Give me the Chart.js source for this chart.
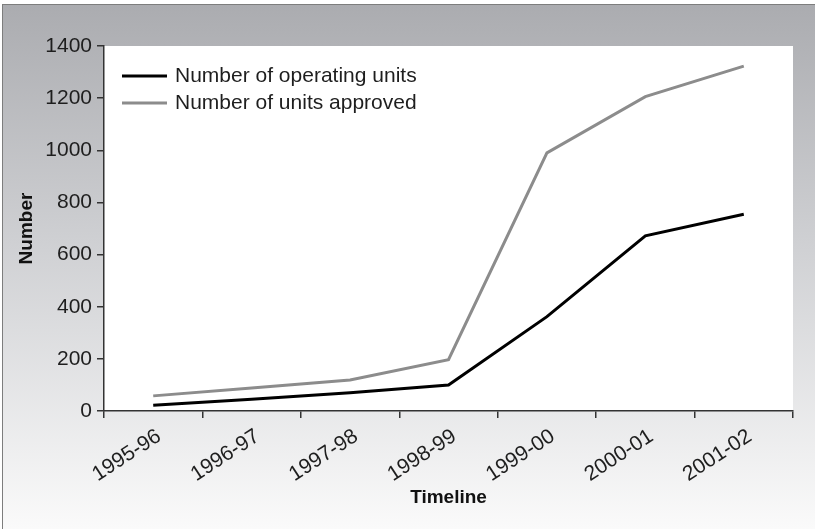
<!DOCTYPE html>
<html>
<head>
<meta charset="utf-8">
<script src="https://cdn.jsdelivr.net/npm/chart.js@4/dist/chart.umd.min.js"></script>
<style>
  html, body { margin: 0; padding: 0; background: #fff; }
  .frame {
    position: absolute; left: 2px; top: 4px; width: 820px; height: 530px;
    border-left: 1px solid #7d7d7d; border-top: 1px solid #7d7d7d;
    background: linear-gradient(to bottom, #abacb0 0%, #cfd0d3 45%, #fbfbfb 100%);
  }
  .wrap { position: absolute; left: 0; top: 0; width: 815px; height: 529px; }
</style>
</head>
<body>
<div class="frame"></div>
<div class="wrap"><canvas id="chart" width="815" height="529"></canvas></div>
<script>
const years = ["1995-96", "1996-97", "1997-98", "1998-99", "1999-00", "2000-01", "2001-02"];
const operatingUnits = [22, 45, 70, 100, 362, 672, 755];
const approvedUnits = [58, 88, 119, 197, 990, 1206, 1323];
const yTicks = [0, 200, 400, 600, 800, 1000, 1200, 1400];

const FONT = "'Liberation Sans', Arial, sans-serif";

// white plot area behind the lines
const plotBg = {
  id: "plotBg",
  beforeDraw(chart) {
    const { ctx, chartArea: a } = chart;
    ctx.save();
    ctx.fillStyle = "#ffffff";
    ctx.fillRect(a.left, a.top, a.right - a.left, a.bottom - a.top);
    ctx.restore();
  }
};

// legend drawn inside the top-left of the plot
const innerLegend = {
  id: "innerLegend",
  afterDatasetsDraw(chart) {
    const { ctx, chartArea: a } = chart;
    ctx.save();
    ctx.font = "21px " + FONT;
    ctx.textBaseline = "middle";
    chart.data.datasets.forEach((ds, i) => {
      const y = a.top + 30 + i * 27;
      ctx.strokeStyle = ds.borderColor;
      ctx.lineWidth = 3;
      ctx.beginPath();
      ctx.moveTo(a.left + 18, y);
      ctx.lineTo(a.left + 63, y);
      ctx.stroke();
      ctx.fillStyle = "#1e1e1e";
      ctx.fillText(ds.label, a.left + 71, y);
    });
    ctx.restore();
  }
};

new Chart(document.getElementById("chart"), {
  type: "line",
  data: {
    labels: years,
    datasets: [
      { label: "Number of operating units", data: operatingUnits, borderColor: "#000000", borderWidth: 3, pointRadius: 0, tension: 0 },
      { label: "Number of units approved", data: approvedUnits, borderColor: "#8c8c8c", borderWidth: 3, pointRadius: 0, tension: 0 }
    ]
  },
  options: {
    responsive: false,
    animation: false,
    layout: { padding: { left: 0, top: 46, right: 22, bottom: 0 } },
    plugins: { legend: { display: false }, tooltip: { enabled: false } },
    scales: {
      x: {
        offset: true,
        grid: { offset: true, drawOnChartArea: false, tickLength: 7, color: "#333", lineWidth: 1.5 },
        border: { color: "#333", width: 1.5 },
        ticks: { color: "#1e1e1e", font: { family: FONT, size: 21 }, minRotation: 33, maxRotation: 33, padding: 6, labelOffset: 6 },
        title: { display: true, text: "Timeline", color: "#111", font: { family: FONT, size: 19, weight: "bold" }, padding: { top: 0, bottom: 20 } },
        afterFit(s) { s.height = 118; }
      },
      y: {
        min: 0,
        max: 1400,
        afterBuildTicks(s) { s.ticks = yTicks.map(v => ({ value: v })); },
        grid: { drawOnChartArea: false, tickLength: 7, color: "#333", lineWidth: 1.5 },
        border: { color: "#333", width: 1.5 },
        ticks: { color: "#1e1e1e", font: { family: FONT, size: 21 }, padding: 5, callback: v => String(v) },
        title: { display: true, text: "Number", color: "#111", font: { family: FONT, size: 19, weight: "bold" }, padding: { top: 15, bottom: 0 } },
        afterFit(s) { s.width = 104; }
      }
    }
  },
  plugins: [plotBg, innerLegend]
});
</script>
</body>
</html>
